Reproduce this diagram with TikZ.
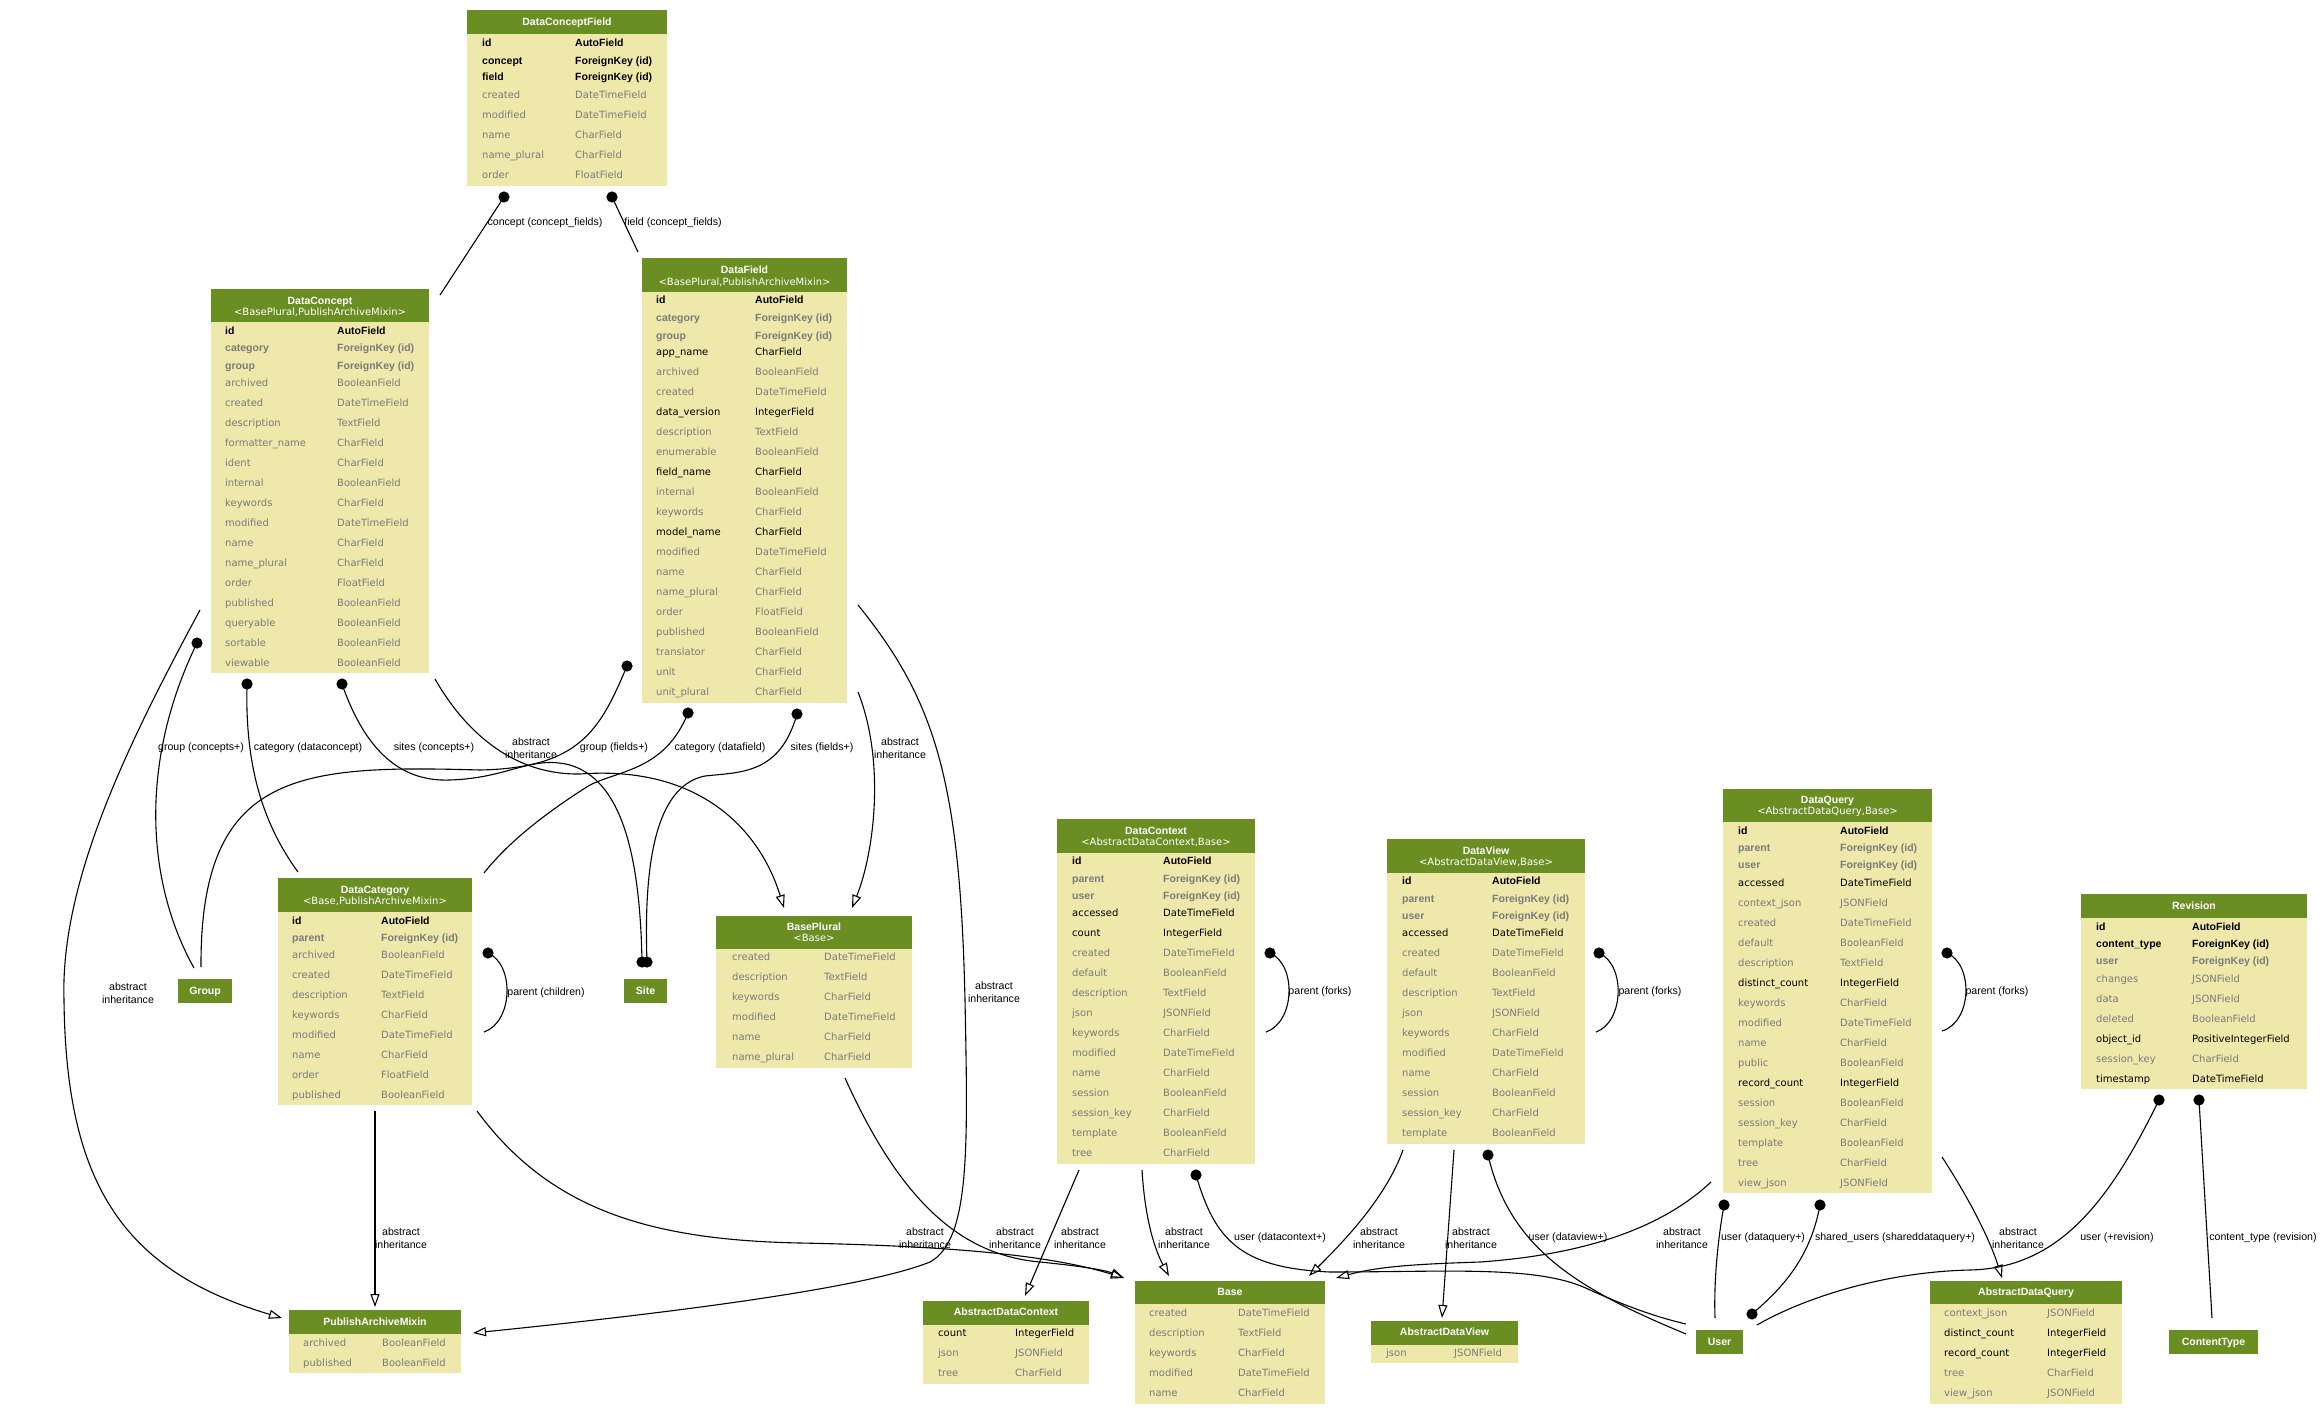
\documentclass[tikz,border=0pt]{standalone}
\usepackage{fontspec}
\usetikzlibrary{arrows.meta,fit}
\newfontfamily\hvfont{Liberation Sans}
\newfontfamily\lgfont{DejaVu Sans}
\definecolor{hdrc}{HTML}{6B8E23}
\definecolor{bodyc}{HTML}{EEE8AA}
\definecolor{fgray}{HTML}{7B7B7B}
\newcounter{fldn}
\newcommand\tbox[6]{\fill[bodyc] (#2,#5) rectangle (#4,#6); \fill[hdrc] (#2,#3) rectangle (#4,#5); \node[inner sep=0pt, fit={(#2,#3) (#4,#6)}] (#1) {};}
\newcommand\hdrbox[5]{\fill[hdrc] (#2,#3) rectangle (#4,#5); \node[inner sep=0pt, fit={(#2,#3) (#4,#5)}] (#1) {};}
\newcommand\httl[4]{\node[ttlsty,anchor=base] (#1-t) at ({#2},#3+3.8) {#4};}
\newcommand\hsub[4]{\node[substy,anchor=base] (#1-s) at ({#2},#3+3.5) {#4};}
\newcommand\fr[4]{\stepcounter{fldn}\node[#1,anchor=base west] (fa\thefldn) at (\colA,#2+3.6) {#3};\node[#1,anchor=base west] (fb\thefldn) at (\colB,#2+3.6) {#4};}
\tikzset{
  ttlsty/.style={font=\hvfont\bfseries\fontsize{10.5}{12}\selectfont, text=white, inner sep=0pt},
  substy/.style={font=\lgfont\fontsize{10}{12}\selectfont, text=white, inner sep=0pt},
  kb/.style={font=\hvfont\bfseries\fontsize{10.5}{12}\selectfont, text=black, inner sep=0pt},
  gb/.style={kb, text=fgray},
  kr/.style={font=\lgfont\fontsize{10}{12}\selectfont, text=black, inner sep=0pt},
  gr/.style={kr, text=fgray},
  lbl/.style={font=\hvfont\fontsize{10.6}{13}\selectfont, align=center, inner sep=0pt},
  edge/.style={line width=1.1pt},
  inh/.style={edge, -{Triangle[open, length=13pt, width=9pt, line width=1.1pt]}},
}
\begin{document}
\begin{tikzpicture}[x=1pt,y=-1pt]
\fill[white] (0,0) rectangle (2322,1415);
\useasboundingbox (0,0) rectangle (2322,1415);

% ---------------- tables ----------------
% DataConceptField
\tbox{dcf}{467}{10}{667}{34}{186}
\httl{dcf}{(467+667)/2}{22}{DataConceptField}
\def\colA{482}\def\colB{575}
\fr{kb}{43}{id}{AutoField}
\fr{kb}{61}{concept}{ForeignKey (id)}
\fr{kb}{77}{field}{ForeignKey (id)}
\fr{gr}{95}{created}{DateTimeField}
\fr{gr}{115}{modified}{DateTimeField}
\fr{gr}{135}{name}{CharField}
\fr{gr}{155}{name\_plural}{CharField}
\fr{gr}{175}{order}{FloatField}

% DataConcept
\tbox{dc}{211}{289}{429}{322}{673}
\httl{dc}{(211+429)/2}{301}{DataConcept}
\hsub{dc}{(211+429)/2}{312}{<BasePlural,PublishArchiveMixin>}
\def\colA{225}\def\colB{337}
\fr{kb}{331}{id}{AutoField}
\fr{gb}{348}{category}{ForeignKey (id)}
\fr{gb}{366}{group}{ForeignKey (id)}
\fr{gr}{383}{archived}{BooleanField}
\fr{gr}{403}{created}{DateTimeField}
\fr{gr}{423}{description}{TextField}
\fr{gr}{443}{formatter\_name}{CharField}
\fr{gr}{463}{ident}{CharField}
\fr{gr}{483}{internal}{BooleanField}
\fr{gr}{503}{keywords}{CharField}
\fr{gr}{523}{modified}{DateTimeField}
\fr{gr}{543}{name}{CharField}
\fr{gr}{563}{name\_plural}{CharField}
\fr{gr}{583}{order}{FloatField}
\fr{gr}{603}{published}{BooleanField}
\fr{gr}{623}{queryable}{BooleanField}
\fr{gr}{643}{sortable}{BooleanField}
\fr{gr}{663}{viewable}{BooleanField}

% DataField
\tbox{df}{642}{258}{847}{292}{703}
\httl{df}{(642+847)/2}{270}{DataField}
\hsub{df}{(642+847)/2}{282}{<BasePlural,PublishArchiveMixin>}
\def\colA{656}\def\colB{755}
\fr{kb}{300}{id}{AutoField}
\fr{gb}{318}{category}{ForeignKey (id)}
\fr{gb}{336}{group}{ForeignKey (id)}
\fr{kr}{352}{app\_name}{CharField}
\fr{gr}{372}{archived}{BooleanField}
\fr{gr}{392}{created}{DateTimeField}
\fr{kr}{412}{data\_version}{IntegerField}
\fr{gr}{432}{description}{TextField}
\fr{gr}{452}{enumerable}{BooleanField}
\fr{kr}{472}{field\_name}{CharField}
\fr{gr}{492}{internal}{BooleanField}
\fr{gr}{512}{keywords}{CharField}
\fr{kr}{532}{model\_name}{CharField}
\fr{gr}{552}{modified}{DateTimeField}
\fr{gr}{572}{name}{CharField}
\fr{gr}{592}{name\_plural}{CharField}
\fr{gr}{612}{order}{FloatField}
\fr{gr}{632}{published}{BooleanField}
\fr{gr}{652}{translator}{CharField}
\fr{gr}{672}{unit}{CharField}
\fr{gr}{692}{unit\_plural}{CharField}

% DataCategory
\tbox{dcat}{278}{878}{472}{912}{1105}
\httl{dcat}{(278+472)/2}{890}{DataCategory}
\hsub{dcat}{(278+472)/2}{901}{<Base,PublishArchiveMixin>}
\def\colA{292}\def\colB{381}
\fr{kb}{921}{id}{AutoField}
\fr{gb}{938}{parent}{ForeignKey (id)}
\fr{gr}{955}{archived}{BooleanField}
\fr{gr}{975}{created}{DateTimeField}
\fr{gr}{995}{description}{TextField}
\fr{gr}{1015}{keywords}{CharField}
\fr{gr}{1035}{modified}{DateTimeField}
\fr{gr}{1055}{name}{CharField}
\fr{gr}{1075}{order}{FloatField}
\fr{gr}{1095}{published}{BooleanField}

% Group, Site
\hdrbox{grp}{178}{979}{232}{1003}
\httl{grp}{(178+232)/2}{991}{Group}
\hdrbox{site}{624}{979}{667}{1003}
\httl{site}{(624+667)/2}{991}{Site}

% BasePlural
\tbox{bp}{716}{916}{912}{949}{1068}
\httl{bp}{(716+912)/2}{927}{BasePlural}
\hsub{bp}{(716+912)/2}{938}{<Base>}
\def\colA{732}\def\colB{824}
\fr{gr}{957}{created}{DateTimeField}
\fr{gr}{977}{description}{TextField}
\fr{gr}{997}{keywords}{CharField}
\fr{gr}{1017}{modified}{DateTimeField}
\fr{gr}{1037}{name}{CharField}
\fr{gr}{1057}{name\_plural}{CharField}

% PublishArchiveMixin
\tbox{pam}{289}{1310}{461}{1334}{1373}
\httl{pam}{(289+461)/2}{1322}{PublishArchiveMixin}
\def\colA{303}\def\colB{382}
\fr{gr}{1343}{archived}{BooleanField}
\fr{gr}{1363}{published}{BooleanField}

% AbstractDataContext
\tbox{adc}{923}{1301}{1089}{1325}{1384}
\httl{adc}{(923+1089)/2}{1312}{AbstractDataContext}
\def\colA{938}\def\colB{1015}
\fr{kr}{1333}{count}{IntegerField}
\fr{gr}{1353}{json}{JSONField}
\fr{gr}{1373}{tree}{CharField}

% Base
\tbox{base}{1135}{1281}{1325}{1304}{1404}
\httl{base}{(1135+1325)/2}{1292}{Base}
\def\colA{1149}\def\colB{1238}
\fr{gr}{1313}{created}{DateTimeField}
\fr{gr}{1333}{description}{TextField}
\fr{gr}{1353}{keywords}{CharField}
\fr{gr}{1373}{modified}{DateTimeField}
\fr{gr}{1393}{name}{CharField}

% AbstractDataView
\tbox{adv}{1371}{1321}{1518}{1345}{1363}
\httl{adv}{(1371+1518)/2}{1332}{AbstractDataView}
\def\colA{1386}\def\colB{1454}
\fr{gr}{1353}{json}{JSONField}

% DataContext
\tbox{dctx}{1057}{819}{1255}{853}{1164}
\httl{dctx}{(1057+1255)/2}{831}{DataContext}
\hsub{dctx}{(1057+1255)/2}{842}{<AbstractDataContext,Base>}
\def\colA{1072}\def\colB{1163}
\fr{kb}{861}{id}{AutoField}
\fr{gb}{879}{parent}{ForeignKey (id)}
\fr{gb}{896}{user}{ForeignKey (id)}
\fr{kr}{913}{accessed}{DateTimeField}
\fr{kr}{933}{count}{IntegerField}
\fr{gr}{953}{created}{DateTimeField}
\fr{gr}{973}{default}{BooleanField}
\fr{gr}{993}{description}{TextField}
\fr{gr}{1013}{json}{JSONField}
\fr{gr}{1033}{keywords}{CharField}
\fr{gr}{1053}{modified}{DateTimeField}
\fr{gr}{1073}{name}{CharField}
\fr{gr}{1093}{session}{BooleanField}
\fr{gr}{1113}{session\_key}{CharField}
\fr{gr}{1133}{template}{BooleanField}
\fr{gr}{1153}{tree}{CharField}

% DataView
\tbox{dv}{1387}{839}{1585}{873}{1144}
\httl{dv}{(1387+1585)/2}{851}{DataView}
\hsub{dv}{(1387+1585)/2}{862}{<AbstractDataView,Base>}
\def\colA{1402}\def\colB{1492}
\fr{kb}{881}{id}{AutoField}
\fr{gb}{899}{parent}{ForeignKey (id)}
\fr{gb}{916}{user}{ForeignKey (id)}
\fr{kr}{933}{accessed}{DateTimeField}
\fr{gr}{953}{created}{DateTimeField}
\fr{gr}{973}{default}{BooleanField}
\fr{gr}{993}{description}{TextField}
\fr{gr}{1013}{json}{JSONField}
\fr{gr}{1033}{keywords}{CharField}
\fr{gr}{1053}{modified}{DateTimeField}
\fr{gr}{1073}{name}{CharField}
\fr{gr}{1093}{session}{BooleanField}
\fr{gr}{1113}{session\_key}{CharField}
\fr{gr}{1133}{template}{BooleanField}

% DataQuery
\tbox{dq}{1723}{789}{1932}{822}{1193}
\httl{dq}{(1723+1932)/2}{800}{DataQuery}
\hsub{dq}{(1723+1932)/2}{811}{<AbstractDataQuery,Base>}
\def\colA{1738}\def\colB{1840}
\fr{kb}{831}{id}{AutoField}
\fr{gb}{848}{parent}{ForeignKey (id)}
\fr{gb}{865}{user}{ForeignKey (id)}
\fr{kr}{883}{accessed}{DateTimeField}
\fr{gr}{903}{context\_json}{JSONField}
\fr{gr}{923}{created}{DateTimeField}
\fr{gr}{943}{default}{BooleanField}
\fr{gr}{963}{description}{TextField}
\fr{kr}{983}{distinct\_count}{IntegerField}
\fr{gr}{1003}{keywords}{CharField}
\fr{gr}{1023}{modified}{DateTimeField}
\fr{gr}{1043}{name}{CharField}
\fr{gr}{1063}{public}{BooleanField}
\fr{kr}{1083}{record\_count}{IntegerField}
\fr{gr}{1103}{session}{BooleanField}
\fr{gr}{1123}{session\_key}{CharField}
\fr{gr}{1143}{template}{BooleanField}
\fr{gr}{1163}{tree}{CharField}
\fr{gr}{1183}{view\_json}{JSONField}

% Revision
\tbox{rev}{2081}{894}{2307}{918}{1089}
\httl{rev}{(2081+2307)/2}{906}{Revision}
\def\colA{2096}\def\colB{2192}
\fr{kb}{927}{id}{AutoField}
\fr{kb}{944}{content\_type}{ForeignKey (id)}
\fr{gb}{961}{user}{ForeignKey (id)}
\fr{gr}{979}{changes}{JSONField}
\fr{gr}{999}{data}{JSONField}
\fr{gr}{1019}{deleted}{BooleanField}
\fr{kr}{1039}{object\_id}{PositiveIntegerField}
\fr{gr}{1059}{session\_key}{CharField}
\fr{kr}{1079}{timestamp}{DateTimeField}

% User, ContentType
\hdrbox{user}{1696}{1330}{1743}{1354}
\httl{user}{(1696+1743)/2}{1342}{User}
\hdrbox{ct}{2169}{1330}{2258}{1354}
\httl{ct}{(2169+2258)/2}{1342}{ContentType}

% AbstractDataQuery
\tbox{adq}{1930}{1281}{2122}{1304}{1404}
\httl{adq}{(1930+2122)/2}{1292}{AbstractDataQuery}
\def\colA{1944}\def\colB{2047}
\fr{gr}{1313}{context\_json}{JSONField}
\fr{kr}{1333}{distinct\_count}{IntegerField}
\fr{kr}{1353}{record\_count}{IntegerField}
\fr{gr}{1373}{tree}{CharField}
\fr{gr}{1393}{view\_json}{JSONField}

% ---------------- connector end points ----------------
\coordinate (e1s) at (504,197);  \coordinate (e1t) at (440,295);
\coordinate (e2s) at (612,197);  \coordinate (e2t) at (638,252);
\coordinate (e3s) at (200,610);  \coordinate (e3t) at (282,1318);
\coordinate (e4s) at (197,643);  \coordinate (e4t) at (194,968);
\coordinate (e5s) at (247,684);  \coordinate (e5t) at (298,872);
\coordinate (e6s) at (342,684);  \coordinate (e6t) at (642,962);
\coordinate (e7s) at (435,679);  \coordinate (e7t) at (784,908);
\coordinate (e8s) at (627,666);  \coordinate (e8t) at (201,967);
\coordinate (e9s) at (688,713);  \coordinate (e9t) at (484,873);
\coordinate (e10s) at (797,714); \coordinate (e10t) at (647,962);
\coordinate (e11s) at (858,692); \coordinate (e11t) at (852,908);
\coordinate (e12s) at (858,605); \coordinate (e12t) at (473,1333);
\coordinate (e13s) at (375,1111); \coordinate (e13t) at (375,1307);
\coordinate (e14s) at (477,1111); \coordinate (e14t) at (1124,1278);
\coordinate (e15s) at (845,1078); \coordinate (e15t) at (1124,1278);
\coordinate (e16s) at (1079,1170); \coordinate (e16t) at (1025,1296);
\coordinate (e17s) at (1142,1170); \coordinate (e17t) at (1169,1276);
\coordinate (e18s) at (1196,1175); \coordinate (e18t) at (1686,1324);
\coordinate (e19s) at (1403,1150); \coordinate (e19t) at (1309,1276);
\coordinate (e20s) at (1454,1150); \coordinate (e20t) at (1442,1318);
\coordinate (e21s) at (1488,1155); \coordinate (e21t) at (1686,1334);
\coordinate (e22s) at (1711,1182); \coordinate (e22t) at (1336,1278);
\coordinate (e23s) at (1724,1205); \coordinate (e23t) at (1715,1318);
\coordinate (e24s) at (1820,1205); \coordinate (e24t) at (1752,1314);
\coordinate (e25s) at (1942,1157); \coordinate (e25t) at (2002,1278);
\coordinate (e26s) at (2159,1100); \coordinate (e26t) at (1757,1325);
\coordinate (e27s) at (2199,1100); \coordinate (e27t) at (2212,1318);
\coordinate (e28s) at (488,953);  \coordinate (e28t) at (484,1032);
\coordinate (e29s) at (1270,953); \coordinate (e29t) at (1266,1032);
\coordinate (e30s) at (1599,953); \coordinate (e30t) at (1596,1032);
\coordinate (e31s) at (1947,953); \coordinate (e31t) at (1942,1031);

% ---------------- connectors ----------------
\draw[edge] (e1s) -- (e1t);
\draw[edge] (e2s) -- (e2t);
\draw[inh] (e3s) .. controls (130,740) and (60,880) .. (64,1000) .. controls (66,1180) and (120,1270) .. (e3t);
\draw[edge] (e4s) .. controls (140,760) and (145,880) .. (e4t);
\draw[edge] (e5s) .. controls (245,760) and (260,820) .. (e5t);
\draw[edge] (e6s) .. controls (365,750) and (400,782) .. (450,780) .. controls (510,778) and (530,755) .. (570,765) .. controls (620,780) and (640,850) .. (e6t);
\draw[inh] (e7s) .. controls (470,740) and (520,775) .. (580,774) .. controls (700,765) and (760,830) .. (e7t);
\draw[edge] (e8s) .. controls (600,730) and (580,768) .. (480,770) .. controls (300,765) and (200,770) .. (e8t);
\draw[edge] (e9s) .. controls (665,770) and (620,770) .. (590,785) .. controls (550,810) and (510,840) .. (e9t);
\draw[edge] (e10s) .. controls (780,775) and (740,772) .. (705,776) .. controls (660,785) and (643,850) .. (e10t);
\draw[inh] (e11s) .. controls (885,760) and (875,850) .. (e11t);
\draw[inh] (e12s) .. controls (935,700) and (960,780) .. (965,1000) .. controls (968,1150) and (970,1240) .. (930,1262) .. controls (860,1290) and (650,1315) .. (e12t);
\draw[inh] (e13s) -- (e13t);
\draw[inh] (e14s) .. controls (550,1210) and (650,1240) .. (800,1243) .. controls (950,1246) and (1050,1255) .. (e14t);
\draw[inh] (e15s) .. controls (900,1200) and (960,1255) .. (1040,1262) .. controls (1080,1266) and (1105,1270) .. (e15t);
\draw[inh] (e16s) -- (e16t);
\draw[inh] (e17s) .. controls (1145,1220) and (1155,1250) .. (e17t);
\draw[edge] (e18s) .. controls (1215,1240) and (1240,1268) .. (1330,1272) .. controls (1450,1272) and (1540,1265) .. (1590,1290) .. controls (1630,1308) and (1660,1318) .. (e18t);
\draw[inh] (e19s) .. controls (1385,1200) and (1340,1245) .. (e19t);
\draw[inh] (e20s) -- (e20t);
\draw[edge] (e21s) .. controls (1510,1250) and (1580,1290) .. (e21t);
\draw[inh] (e22s) .. controls (1660,1230) and (1580,1255) .. (1480,1262) .. controls (1420,1264) and (1380,1266) .. (e22t);
\draw[edge] (e23s) .. controls (1716,1250) and (1714,1290) .. (e23t);
\draw[edge] (e24s) .. controls (1810,1260) and (1780,1290) .. (e24t);
\draw[inh] (e25s) .. controls (1970,1200) and (1990,1240) .. (e25t);
\draw[edge] (e26s) .. controls (2110,1200) and (2060,1268) .. (1970,1270) .. controls (1880,1272) and (1800,1300) .. (e26t);
\draw[edge] (e27s) -- (e27t);
\draw[edge] (e28s) .. controls (515,965) and (513,1022) .. (e28t);
\draw[edge] (e29s) .. controls (1297,965) and (1295,1022) .. (e29t);
\draw[edge] (e30s) .. controls (1626,965) and (1624,1022) .. (e30t);
\draw[edge] (e31s) .. controls (1974,965) and (1972,1022) .. (e31t);

% dot heads
\foreach \c in {e1s,e2s,e4s,e5s,e6s,e6t,e8s,e9s,e10s,e10t,e18s,e21s,e23s,e24s,e24t,e26s,e27s,e28s,e29s,e30s,e31s}
  \fill (\c) circle (5.6pt);

% ---------------- labels ----------------
\node[lbl] (l1) at (545,223) {concept (concept\_fields)};
\node[lbl] (l2) at (673,223) {field (concept\_fields)};
\node[lbl] (l3) at (201,748) {group (concepts+)};
\node[lbl] (l4) at (308,748) {category (dataconcept)};
\node[lbl] (l5) at (434,748) {sites (concepts+)};
\node[lbl] (l6) at (531,748) {abstract\\inheritance};
\node[lbl] (l7) at (614,748) {group (fields+)};
\node[lbl] (l8) at (720,748) {category (datafield)};
\node[lbl] (l9) at (822,748) {sites (fields+)};
\node[lbl] (l10) at (900,748) {abstract\\inheritance};
\node[lbl] (l11) at (994,992) {abstract\\inheritance};
\node[lbl] (l12) at (128,993) {abstract\\inheritance};
\node[lbl] (l13) at (546,993) {parent (children)};
\node[lbl] (l14) at (1320,992) {parent (forks)};
\node[lbl] (l15) at (1650,992) {parent (forks)};
\node[lbl] (l16) at (1997,992) {parent (forks)};
\node[lbl] (l17) at (401,1238) {abstract\\inheritance};
\node[lbl] (l18) at (925,1238) {abstract\\inheritance};
\node[lbl] (l19) at (1015,1238) {abstract\\inheritance};
\node[lbl] (l20) at (1080,1238) {abstract\\inheritance};
\node[lbl] (l21) at (1184,1238) {abstract\\inheritance};
\node[lbl] (l22) at (1280,1238) {user (datacontext+)};
\node[lbl] (l23) at (1379,1238) {abstract\\inheritance};
\node[lbl] (l24) at (1471,1238) {abstract\\inheritance};
\node[lbl] (l25) at (1568,1238) {user (dataview+)};
\node[lbl] (l26) at (1682,1238) {abstract\\inheritance};
\node[lbl] (l27) at (1763,1238) {user (dataquery+)};
\node[lbl] (l28) at (1895,1238) {shared\_users (shareddataquery+)};
\node[lbl] (l29) at (2018,1238) {abstract\\inheritance};
\node[lbl] (l30) at (2117,1238) {user (+revision)};
\node[lbl] (l31) at (2263,1238) {content\_type (revision)};
\end{tikzpicture}
\end{document}
